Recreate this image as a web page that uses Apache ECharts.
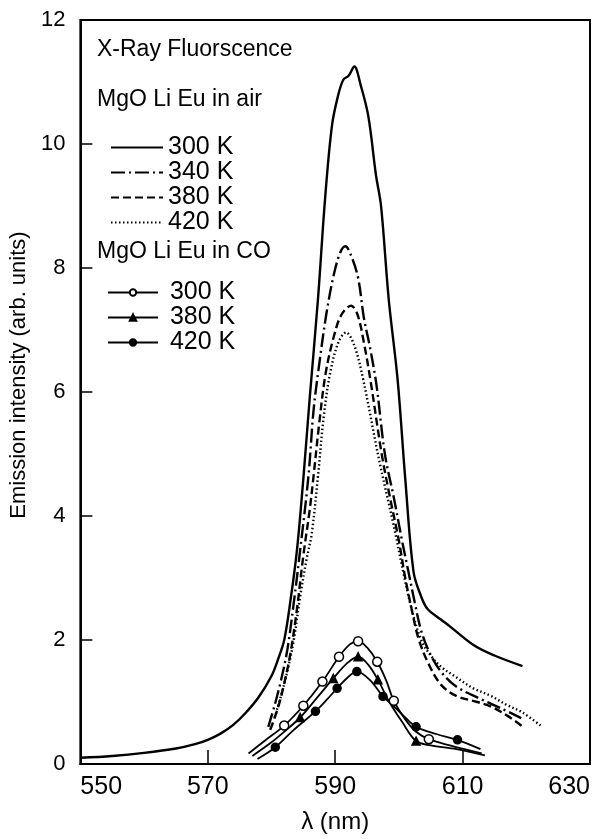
<!DOCTYPE html>
<html>
<head>
<meta charset="utf-8">
<title>X-Ray Fluorscence</title>
<script src="https://cdn.jsdelivr.net/npm/echarts@6/dist/echarts.min.js"></script>
<style>
  html, body { margin: 0; padding: 0; background: #fff; }
  #main { width: 603px; height: 839px; }
</style>
</head>
<body>
<div id="main"></div>
<script>
// axis ticks
var xTicks = [550, 570, 590, 610, 630];
var yTicks = [0, 2, 4, 6, 8, 10, 12];

// MgO Li Eu in air, [wavelength nm, intensity]
var air300 = [[550,0.10],[555,0.13],[560,0.18],[565,0.25],[568,0.32],[570,0.39],[572,0.49],[574,0.63],[576,0.83],[578,1.08],[580,1.42],[581,1.68],[582,2.0],[583,2.65],[584,3.45],[585,4.6],[586,5.9],[587.3,7.5],[588.4,9.1],[589.5,10.3],[590.5,10.8],[591.3,11.04],[592.1,11.1],[593,11.25],[594,10.95],[595.2,10.45],[596.4,9.5],[597.2,9.0],[598.4,7.5],[599.8,6.2],[601,4.6],[602.3,3.1],[603.5,2.7],[604.5,2.5],[606.6,2.33],[608,2.22],[611.7,1.92],[615,1.75],[619.4,1.58]];
var air340 = [[579.5,0.6],[580.5,0.95],[581.5,1.35],[582.5,1.85],[583.5,2.6],[584.4,3.36],[585.8,4.64],[586.6,5.7],[587.5,6.45],[588.6,7.25],[589.8,7.9],[590.8,8.25],[591.6,8.35],[592.5,8.2],[593.6,7.84],[594.5,7.2],[595.5,6.7],[596.5,6.1],[597.8,5.0],[599.2,4.3],[600.5,3.6],[601.5,3.1],[602.5,2.6],[603.5,2.15],[604.8,1.8],[606.6,1.49],[609,1.25],[612.8,1.05],[616,0.9],[619.2,0.74]];
var air380 = [[579.8,0.55],[581,0.9],[582,1.3],[583,1.8],[584,2.5],[585,3.36],[586,4.1],[586.6,4.64],[587.5,5.5],[588.5,6.3],[589.8,6.9],[591,7.25],[592.5,7.39],[593.5,7.25],[594.5,6.8],[595.6,6.15],[597.3,5.0],[598.6,4.3],[600,3.6],[601,3.0],[602,2.5],[603,2.05],[604.5,1.65],[606.6,1.28],[609,1.1],[612.3,1.0],[614.4,0.93],[617,0.78],[619.5,0.6]];
var air420 = [[580.5,0.75],[581.5,1.1],[582.5,1.5],[583.5,2.0],[584.5,2.7],[585.5,3.3],[586.3,3.7],[587.3,4.64],[588.2,5.6],[589.2,6.3],[590.5,6.8],[591.7,6.96],[593,6.75],[594.4,6.2],[596.9,4.9],[599.2,3.84],[600.8,3.04],[602,2.5],[603.5,2.0],[605,1.75],[606.6,1.57],[609,1.4],[611.7,1.22],[614.4,1.1],[617,0.95],[619.4,0.83],[622.5,0.6]];

// MgO Li Eu in CO: curve points and the wavelengths that carry a marker
var co300 = [[576.4,0.17],[579,0.38],[582,0.62],[585,0.94],[588,1.33],[590.6,1.73],[592.3,1.93],[593.6,1.98],[595,1.88],[596.6,1.65],[598,1.35],[599.2,1.02],[601,0.72],[602.7,0.52],[604.7,0.4],[608,0.3],[613,0.17]];
var co300Marks = [582, 585, 588, 590.6, 593.6, 596.6, 599.2, 604.7];
var co380 = [[577,0.13],[580,0.35],[582,0.52],[584.5,0.75],[587,1.05],[589.7,1.38],[591.8,1.62],[593.6,1.73],[595.2,1.6],[596.7,1.36],[598.5,1.0],[600.5,0.68],[602.7,0.37],[605,0.3],[609,0.24],[613.5,0.14]];
var co380Marks = [584.5, 589.7, 593.6, 596.7, 602.7];
var co420 = [[577.8,0.08],[580.6,0.27],[583.5,0.55],[586.9,0.85],[588.8,1.05],[590.3,1.22],[592,1.4],[593.4,1.49],[595.5,1.35],[597.5,1.09],[599,0.95],[600.5,0.8],[602.7,0.6],[606,0.48],[609.2,0.39],[612.8,0.24]];
var co420Marks = [580.6, 586.9, 590.3, 593.4, 597.5, 602.7, 609.2];

var labels = {
  air300: '300 K', air340: '340 K', air380: '380 K', air420: '420 K',
  co300: '300 K', co380: '380 K', co420: '420 K'
};

var FONT = 'Liberation Sans';

function withMarks(curve, marks, symbol) {
  return curve.map(function (p) {
    var on = marks.indexOf(p[0]) >= 0;
    return { value: p, symbol: on ? symbol : 'none' };
  });
}

function airSeries(name, data, dash) {
  return {
    name: name, type: 'line', data: data, smooth: 0.35,
    symbol: 'none', showSymbol: false,
    itemStyle: { color: 'rgba(0,0,0,0)', borderWidth: 0 },
    lineStyle: { color: '#000', width: 2.4, type: dash }
  };
}

function coSeries(name, curve, marks, symbol, size, fill) {
  return {
    name: name, type: 'line', data: withMarks(curve, marks, symbol),
    smooth: 0.35, symbol: symbol, symbolSize: size, showAllSymbol: true,
    lineStyle: { color: '#000', width: 1.8 },
    itemStyle: { color: fill, borderColor: '#000', borderWidth: 1.5 }
  };
}

function heading(text, top) {
  return {
    text: text, left: 97, top: top, padding: 0,
    textStyle: { fontSize: 23, fontWeight: 'normal', fontFamily: FONT, color: '#000' }
  };
}

var myChart = echarts.init(document.getElementById('main'));

var option = {
  animation: false,
  backgroundColor: '#fff',
  textStyle: { fontFamily: FONT, color: '#000' },
  title: [
    heading('X-Ray Fluorscence', 38),
    heading('MgO Li Eu in air', 88),
    heading('MgO Li Eu in CO', 240)
  ],
  legend: [
    {
      data: ['air300', 'air340', 'air380', 'air420'],
      orient: 'vertical', left: 110, top: 135, padding: 0,
      itemWidth: 52, itemHeight: 10, itemGap: 0,
      itemStyle: { color: 'rgba(0,0,0,0)', borderWidth: 0 },
      formatter: function (n) { return labels[n]; },
      textStyle: { fontSize: 25, lineHeight: 23.5, fontFamily: FONT, color: '#000' }
    },
    {
      data: ['co300', 'co380', 'co420'],
      orient: 'vertical', left: 107, top: 280, padding: 0,
      itemWidth: 50, itemHeight: 8, itemGap: 0,
      formatter: function (n) { return ' ' + labels[n]; },
      textStyle: { fontSize: 25, lineHeight: 24, fontFamily: FONT, color: '#000' }
    }
  ],
  grid: {
    left: 78, right: 13, top: 20, bottom: 69,
    show: true, borderColor: '#000', borderWidth: 2
  },
  xAxis: {
    type: 'value', min: xTicks[0], max: xTicks[xTicks.length - 1], interval: 20,
    name: 'λ (nm)', nameLocation: 'middle', nameGap: 46,
    nameTextStyle: { fontSize: 24, fontFamily: FONT, color: '#000' },
    axisLine: { lineStyle: { color: '#000', width: 2 } },
    axisTick: { inside: true, length: 14, lineStyle: { color: '#000', width: 1.5 } },
    axisLabel: { fontSize: 25, margin: 11, color: '#000', fontFamily: FONT,
      alignMinLabel: 'left', alignMaxLabel: 'right' },
    splitLine: { show: false }
  },
  yAxis: {
    type: 'value', min: yTicks[0], max: yTicks[yTicks.length - 1], interval: 2,
    name: 'Emission intensity (arb. units)', nameLocation: 'middle', nameGap: 45,
    nameTextStyle: { fontSize: 22, fontFamily: FONT, color: '#000', padding: [0, 0, 0, 34] },
    axisLine: { show: true, lineStyle: { color: '#000', width: 2 } },
    axisTick: { show: true, inside: true, length: 12, lineStyle: { color: '#000', width: 1.5 } },
    axisLabel: { fontSize: 22, margin: 15, color: '#000', fontFamily: FONT },
    splitLine: { show: false }
  },
  series: [
    airSeries('air300', air300, 'solid'),
    airSeries('air340', air340, [14, 4, 2, 4]),
    airSeries('air380', air380, [8, 4]),
    airSeries('air420', air420, [1.5, 2.5]),
    coSeries('co300', co300, co300Marks, 'circle', 9, '#fff'),
    coSeries('co380', co380, co380Marks, 'triangle', 8, '#000'),
    coSeries('co420', co420, co420Marks, 'circle', 8, '#000')
  ]
};

myChart.setOption(option);
window.onresize = myChart.resize;
</script>
</body>
</html>
